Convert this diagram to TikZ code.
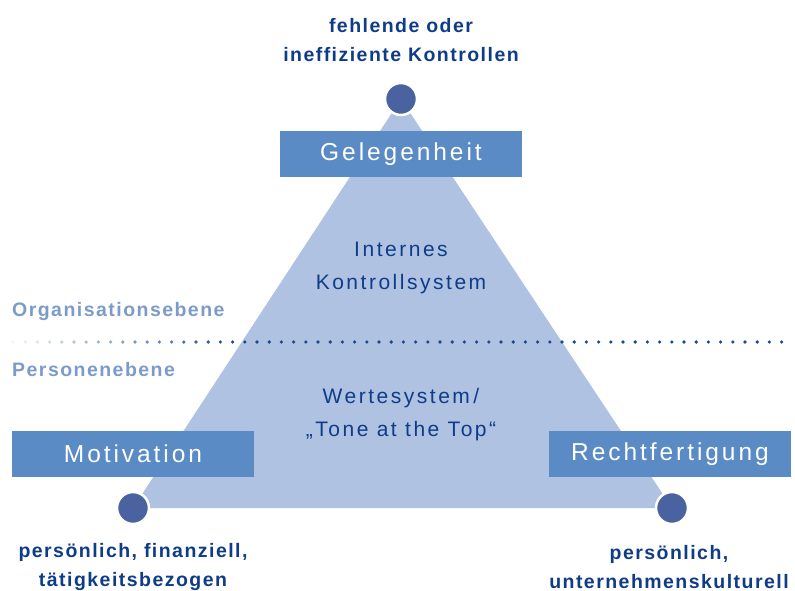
\documentclass[tikz,border=0pt]{standalone}
\usepackage{fontspec}
\setmainfont{Liberation Sans}
\newfontfamily\regfont[LetterSpace=12]{Liberation Sans}
\newfontfamily\labfont[LetterSpace=7.5]{Liberation Sans}
\usetikzlibrary{positioning}
\definecolor{trifill}{RGB}{176,194,226}
\definecolor{ptblue}{RGB}{74,98,160}
\definecolor{boxblue}{RGB}{91,139,196}
\definecolor{darkblue}{RGB}{14,60,135}
\definecolor{lvlgray}{RGB}{125,155,200}
\definecolor{dotblue}{RGB}{28,72,145}
\tikzset{
  tri/.style={fill=trifill},
  corner/.style={circle, fill=ptblue, draw=white, line width=2.5pt,
                 minimum size=32pt, inner sep=0pt},
  bx/.style={fill=boxblue, minimum width=242pt, minimum height=46pt, inner sep=0pt,
             text=white, font=\regfont\fontsize{24.5}{30}\selectfont},
  hint/.style={font=\labfont\bfseries\fontsize{19.5}{28.5}\selectfont,
               text=darkblue, align=center, inner sep=1pt},
  lvl/.style={font=\labfont\bfseries\fontsize{19.5}{24}\selectfont,
              text=lvlgray, anchor=west, inner sep=0pt},
  mid/.style={font=\regfont\fontsize{21}{33}\selectfont, text=darkblue, align=center},
  sep/.style={fill=dotblue},
}

\begin{document}
\begin{tikzpicture}[x=1pt, y=-1pt]
  \useasboundingbox (0,0) rectangle (795,591);
  \coordinate (gelpt) at (401,99);
  \coordinate (motpt) at (133,508);
  \coordinate (rechtpt) at (672,508);

  % triangle behind everything
  \fill[tri] (gelpt) -- (motpt) -- (rechtpt) -- cycle;

  % level separator, fading in from the left
  \foreach \i in {0,...,63} {
    \pgfmathsetmacro{\op}{min(1, 0.05 + \i/19)}
    \fill[sep, opacity=\op] (13+12.2*\i, 342) circle (1.8);
  }
  \node[lvl] (orga) at (12,311) {Organisationsebene};
  \node[lvl] (pers) at (12,370) {Personenebene};

  \node[corner] (gel) at (gelpt) {};
  \node[corner] (mot) at (motpt) {};
  \node[corner] (recht) at (rechtpt) {};

  \node[bx] (gelbox) at (401,154) {Gelegenheit};
  \node[bx] (motbox) at (133,454) {Motivation};
  \node[bx] (rechtbox) at (670,454) {Rechtfertigung};

  \node[mid] (iks) at (401,268) {Internes\\Kontrollsystem};
  \node[mid] (werte) at (401,415) {Wertesystem\,/\\„Tone at the Top“};

  \node[hint] (gelhint) at (401,40) {fehlende oder\\ineffiziente Kontrollen};
  \node[hint] (mothint) at (133,567) {persönlich, finanziell,\\tätigkeitsbezogen};
  \node[hint] (rechthint) at (669,567) {persönlich,\\unternehmenskulturell};
\end{tikzpicture}
\end{document}
